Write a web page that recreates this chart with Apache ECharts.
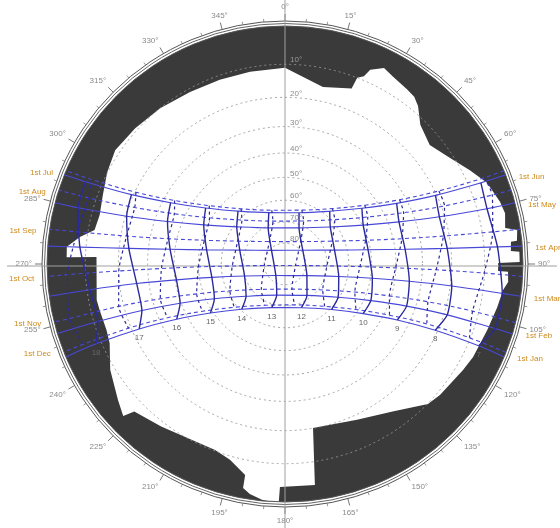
<!DOCTYPE html>
<html>
<head>
<meta charset="utf-8">
<script src="https://cdn.jsdelivr.net/npm/echarts@6/dist/echarts.min.js"></script>
<style>
  html, body { margin: 0; padding: 0; background: #ffffff; }
  #chart { width: 560px; height: 528px; }
</style>
</head>
<body>
<div id="chart"></div>
<script>
// Sun-path diagram (stereographic, zenith at centre) with the surrounding skyline mask.

const months = ['Jan', 'Feb', 'Mar', 'Apr', 'May', 'Jun', 'Jul', 'Aug', 'Sep', 'Oct', 'Nov', 'Dec'];
const hours = [7, 8, 9, 10, 11, 12, 13, 14, 15, 16, 17, 18];
const altRings = [10, 20, 30, 40, 50, 60, 70, 80];

// Sunrise / sunset azimuths (deg) on the 1st of each month
const riseAz = [113.0, 107.1, 97.8, 85.7, 75.1, 68.0, 66.9, 71.9, 81.6, 93.0, 104.3, 111.8];
const setAz = [247.0, 253.0, 262.2, 274.3, 284.9, 292.0, 293.1, 288.1, 278.4, 267.0, 255.9, 248.3];

// Sun position [azimuth, altitude] at each hour 07:00 .. 18:00, 1st of month
const sunJan = [[112.9, 7.1], [113.8, 20.8], [116.5, 34.4], [122.4, 47.5], [134.4, 59.4], [159.4, 67.8], [196.9, 68.3], [223.7, 60.5], [236.7, 48.9], [243.0, 35.9], [246.0, 22.3], [247.1, 8.5]];
const sunFeb = [[107.1, 4.6], [107.4, 18.9], [109.1, 33.2], [113.1, 47.2], [122.0, 60.5], [145.0, 71.7], [194.9, 74.6], [230.3, 66.0], [243.8, 53.4], [249.5, 39.6], [252.0, 25.4], [252.9, 11.1]];
const sunMar = [[97.7, 4.7], [97.5, 19.5], [97.9, 34.4], [99.3, 49.2], [103.1, 63.9], [117.9, 78.1], [218.4, 82.9], [253.4, 69.9], [259.6, 55.3], [261.7, 40.5], [262.5, 25.7], [262.5, 10.8]];
const sunApr = [[85.4, 6.3], [84.5, 21.2], [83.0, 36.1], [80.3, 51.0], [74.3, 65.6], [52.2, 79.2], [315.4, 80.8], [287.1, 67.5], [280.2, 53.0], [277.3, 38.1], [275.7, 23.2], [274.7, 8.3]];
const sunMay = [[74.7, 7.3], [73.0, 21.7], [69.7, 35.9], [63.6, 49.7], [50.8, 62.4], [21.2, 71.5], [335.0, 71.0], [307.6, 61.3], [295.7, 48.5], [289.9, 34.6], [286.8, 20.4], [285.2, 6.0]];
const sunJun = [[67.5, 6.6], [65.5, 20.4], [61.5, 33.8], [54.1, 46.5], [40.3, 57.6], [15.3, 64.8], [342.5, 64.5], [318.4, 56.9], [305.2, 45.6], [298.2, 32.8], [294.3, 19.4], [292.4, 5.6]];
const sunJul = [[66.6, 5.2], [64.6, 18.8], [60.7, 32.2], [53.6, 44.8], [40.6, 55.9], [17.4, 63.3], [346.2, 63.8], [321.5, 57.0], [307.6, 46.2], [299.9, 33.7], [295.7, 20.4], [293.6, 6.8]];
const sunAug = [[71.6, 4.9], [70.0, 19.0], [66.6, 33.0], [60.4, 46.4], [48.3, 58.7], [23.4, 67.7], [344.3, 68.8], [315.6, 61.0], [301.5, 49.2], [294.4, 35.9], [290.6, 22.0], [288.6, 7.9]];
const sunSep = [[81.2, 7.1], [80.0, 21.9], [77.8, 36.6], [73.6, 51.1], [64.2, 65.1], [34.9, 76.9], [325.2, 76.9], [295.8, 65.1], [286.4, 51.1], [282.2, 36.6], [280.0, 21.9], [278.8, 7.1]];
const sunOct = [[92.6, 10.1], [92.2, 25.1], [92.0, 40.1], [92.0, 55.0], [92.5, 70.0], [98.2, 84.9], [265.7, 80.0], [267.8, 65.0], [268.1, 50.0], [267.9, 35.1], [267.6, 20.1], [267.2, 5.1]];
const sunNov = [[104.1, 11.8], [104.8, 26.3], [107.0, 40.7], [111.9, 54.9], [124.5, 68.2], [164.6, 77.5], [223.0, 73.4], [244.0, 61.1], [251.3, 47.2], [254.4, 32.9], [255.7, 18.4], [255.8, 3.9]];
const sunDec = [[111.8, 10.3], [112.9, 24.2], [116.1, 37.9], [122.7, 51.0], [136.9, 62.6], [166.9, 70.0], [206.2, 68.1], [229.5, 58.7], [240.2, 46.4], [245.4, 33.0], [247.7, 19.2], [248.3, 5.3]];
const sunByMonth = [sunJan, sunFeb, sunMar, sunApr, sunMay, sunJun, sunJul, sunAug, sunSep, sunOct, sunNov, sunDec];

// Skyline: [azimuth, altitude] of the top edge of the obstructions, clockwise from north
const skyline = [
  [0, 11.0], [12.1, 15.5], [20.8, 13.5], [21.2, 10.0], [22.8, 8.9], [23.7, 6.6], [26.8, 4.6],
  [30.0, 5.5], [34.9, 6.3], [37.7, 6.8], [40.1, 8.1], [44.2, 11.6], [50.6, 13.6], [57.3, 11.0],
  [63.1, 7.9], [68.1, 5.1], [73.9, 3.5], [77.0, 3.0], [80.7, 3.7], [81.7, 0.8], [84.3, 1.2],
  [84.4, 2.7], [86.7, 2.9], [87.0, 0.8], [89.5, 0.8], [89.7, 6.3], [91.9, 6.3], [92.0, 3.7],
  [94.6, 3.5], [96.8, 4.6], [101.5, 5.4], [108.1, 6.4], [116.3, 7.2], [120.8, 7.9], [130.2, 9.1],
  [134.4, 9.9], [143.9, 15.0], [155.2, 18.4], [170.3, 20.1], [172.3, 3.7], [181.3, 3.7], [181.5, 0],
  [183.6, 0], [185.6, 0.3], [188.7, 1.3], [190.6, 2.5], [190.7, 5.9], [195.7, 9.0], [200.6, 10.3],
  [217.3, 8.7], [225.6, 6.9], [226.8, 4.0], [230.8, 5.7], [238.8, 8.7], [245.7, 12.1], [249.7, 12.7],
  [256.0, 12.5], [259.2, 12.3], [272.1, 13.2], [271.8, 4.9], [274.5, 4.8], [277.5, 8.0], [280.1, 11.8],
  [284.8, 12.3], [290.8, 11.4], [297.3, 9.9], [303.8, 8.7], [312.2, 9.3], [321.3, 10.0], [331.1, 10.9],
  [340.5, 11.2], [349.7, 11.2], [360, 11.0]
];

// Stereographic radius for an altitude (1 = horizon)
const stereo = alt => Math.tan((90 - alt) / 2 * Math.PI / 180);
const toPolar = p => [stereo(p[1]), p[0]];

const OUTER_PX = 243;
const HORIZON_PX = 238;

const MASK = '#3a3a3a';
const DATE_COLOR = '#4848d8';
const HOUR_COLOR = '#2a2a9c';
const MONTH_LABEL = '#d08a1c';
const FONT = 'Liberation Sans, Arial, sans-serif';

const series = [];

// Skyline mask: dark horizon disc with the visible sky cut out in white
series.push({
  type: 'custom', coordinateSystem: 'polar', silent: true, z: 1,
  data: [0],
  renderItem: (params, api) => {
    const c = api.coord([0, 0]);
    const h = api.coord([stereo(0), 0]);
    const pts = skyline.map(p => api.coord(toPolar(p)));
    return {
      type: 'group',
      children: [
        { type: 'circle', shape: { cx: c[0], cy: c[1], r: c[1] - h[1] }, style: { fill: MASK } },
        { type: 'polygon', shape: { points: pts }, style: { fill: '#ffffff' } }
      ]
    };
  }
});

// Altitude rings, horizon rings, compass cross and altitude labels
series.push({
  type: 'custom', coordinateSystem: 'polar', silent: true, z: 2,
  data: [0],
  renderItem: (params, api) => {
    const c = api.coord([0, 0]);
    const rOf = alt => c[1] - api.coord([stereo(alt), 0])[1];
    const kids = [];
    altRings.forEach(a => {
      kids.push({
        type: 'circle', shape: { cx: c[0], cy: c[1], r: rOf(a) },
        style: { fill: null, stroke: 'rgba(150,150,150,0.85)', lineWidth: 1, lineDash: [2, 3] }
      });
    });
    const r0 = rOf(0);
    kids.push({ type: 'circle', shape: { cx: c[0], cy: c[1], r: r0 }, style: { fill: null, stroke: '#555', lineWidth: 1 } });
    kids.push({ type: 'circle', shape: { cx: c[0], cy: c[1], r: r0 + 2.5 }, style: { fill: null, stroke: '#666', lineWidth: 1 } });
    kids.push({ type: 'line', shape: { x1: c[0], y1: c[1] - 268, x2: c[0], y2: c[1] + 268 }, style: { stroke: '#a0a0a0', lineWidth: 1 } });
    kids.push({ type: 'line', shape: { x1: c[0] - 278, y1: c[1] + 2, x2: c[0] + 272, y2: c[1] + 2 }, style: { stroke: '#a0a0a0', lineWidth: 1 } });
    altRings.forEach(a => {
      kids.push({
        type: 'text', x: c[0] + 5, y: c[1] - rOf(a),
        style: { text: a + '°', fill: a === 10 ? '#9a9a9a' : '#8a8a8a', fontSize: 8, fontFamily: FONT, align: 'left', verticalAlign: 'bottom' }
      });
    });
    return { type: 'group', children: kids };
  }
});

// Date lines: Jan-Jun solid, Jul-Dec dashed
months.forEach((m, i) => {
  const pts = [[riseAz[i], 0]].concat(sunByMonth[i], [[setAz[i], 0]]).map(toPolar);
  series.push({
    type: 'line', coordinateSystem: 'polar', name: '1st ' + m, data: pts,
    symbol: 'none', smooth: 0.35, silent: true, z: 4,
    lineStyle: { color: DATE_COLOR, width: 1.1, type: i < 6 ? 'solid' : [4, 3] }
  });
});

// Hour lines (analemma halves): Jan-Jun solid, Jul-Dec dashed
hours.forEach((h, j) => {
  const firstHalf = sunByMonth.slice(0, 6).map(s => toPolar(s[j]));
  const secondHalf = sunByMonth.slice(6).map(s => toPolar(s[j]));
  series.push({
    type: 'line', coordinateSystem: 'polar', data: firstHalf,
    symbol: 'none', smooth: 0.2, silent: true, z: 5,
    lineStyle: { color: HOUR_COLOR, width: 1.4, type: 'solid' }
  });
  series.push({
    type: 'line', coordinateSystem: 'polar', data: secondHalf,
    symbol: 'none', smooth: 0.2, silent: true, z: 5,
    lineStyle: { color: HOUR_COLOR, width: 1.2, type: [3, 3] }
  });
});

// Month labels at the sunrise (Jan-Jun) or sunset (Jul-Dec) end, hour labels at the January end
series.push({
  type: 'custom', coordinateSystem: 'polar', silent: true, z: 6,
  data: [0],
  renderItem: (params, api) => {
    const kids = [];
    months.forEach((m, i) => {
      const east = i < 6;
      const p = api.coord(toPolar([east ? riseAz[i] : setAz[i], 0]));
      kids.push({
        type: 'text', x: p[0] + (east ? 13 : -13), y: p[1] + 2,
        style: { text: '1st ' + m, fill: MONTH_LABEL, fontSize: 8, fontFamily: FONT, align: east ? 'left' : 'right', verticalAlign: 'middle' }
      });
    });
    hours.forEach((h, j) => {
      const p = api.coord(toPolar(sunJan[j]));
      kids.push({
        type: 'text', x: p[0], y: p[1] + 5,
        style: { text: String(h), fill: '#666', fontSize: 8, fontFamily: FONT, align: 'center', verticalAlign: 'top' }
      });
    });
    return { type: 'group', children: kids };
  }
});

const chart = echarts.init(document.getElementById('chart'), null, { renderer: 'canvas' });
chart.setOption({
  backgroundColor: '#ffffff',
  animation: false,
  polar: { center: [285, 264], radius: OUTER_PX },
  angleAxis: {
    type: 'value', min: 0, max: 360, interval: 15,
    startAngle: 90, clockwise: true,
    axisLine: { show: true, lineStyle: { color: '#555', width: 1 } },
    axisTick: { show: true, length: 7, lineStyle: { color: '#777' } },
    minorTick: { show: true, splitNumber: 3, length: 3, lineStyle: { color: '#999' } },
    axisLabel: { margin: 10, color: '#8a8a8a', fontSize: 8, fontFamily: FONT, formatter: v => (v === 360 ? '' : v + '°') },
    splitLine: { show: false }
  },
  radiusAxis: {
    type: 'value', min: 0, max: OUTER_PX / HORIZON_PX,
    axisLine: { show: false }, axisTick: { show: false }, axisLabel: { show: false }, splitLine: { show: false }
  },
  series: series
});
</script>
</body>
</html>
